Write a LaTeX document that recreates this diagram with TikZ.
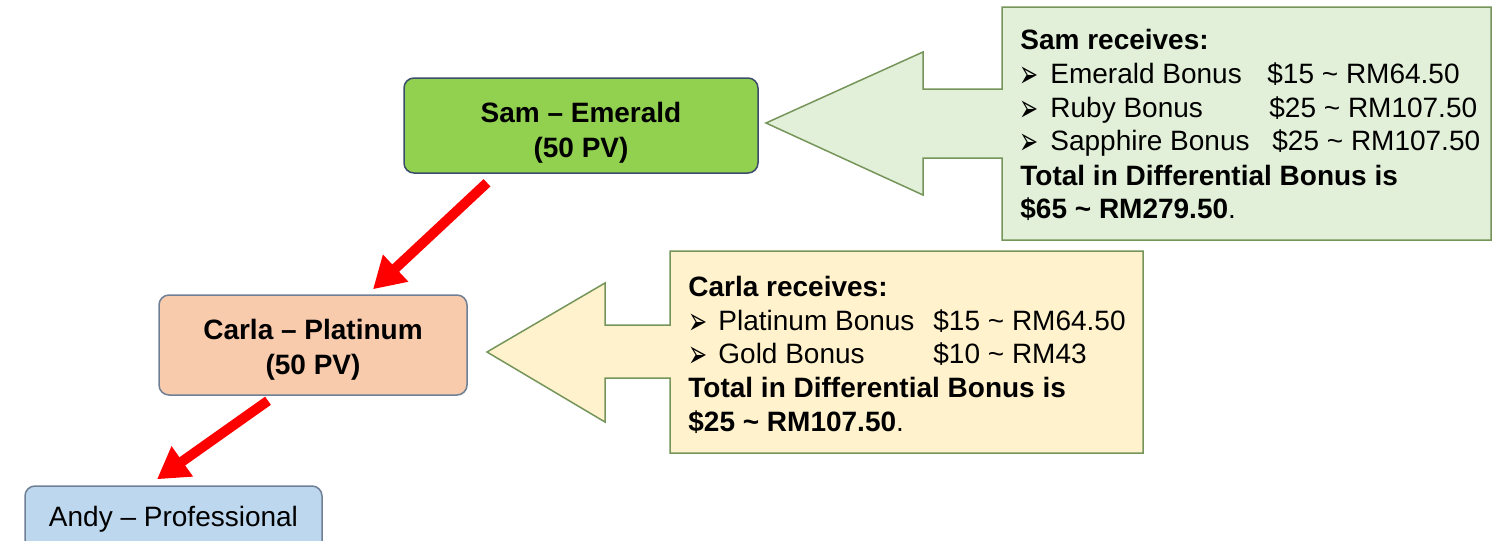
\documentclass[tikz,border=0pt]{standalone}
\usepackage{fontspec}
\usepackage{graphicx}
\setmainfont{Liberation Sans}
\newfontfamily\dejavu{DejaVu Sans}
\usetikzlibrary{arrows.meta,calc}
\definecolor{samfill}{HTML}{92D050}
\definecolor{carlafill}{HTML}{F8CBAD}
\definecolor{andyfill}{HTML}{BDD7EE}
\definecolor{samborder}{HTML}{3B4D6B}
\definecolor{boxborder}{HTML}{6F7F95}
\definecolor{greenfill}{HTML}{E2F0D9}
\definecolor{yellowfill}{HTML}{FFF2CC}
\definecolor{calloutborder}{HTML}{76955A}
\definecolor{arrowred}{HTML}{FF0000}
\newcommand{\mybul}{\scalebox{0.95}[1.6]{➢}}
\tikzset{
  box/.style={draw=boxborder, line width=0.75pt, rounded corners=5pt, inner sep=0pt},
  nodetxt/.style={font=\fontsize{14}{17.5}\selectfont, align=center, inner sep=0pt},
  lbl/.style={font=\fontsize{14}{17}\selectfont, anchor=base west, inner sep=0pt},
  bul/.style={font=\dejavu\fontsize{12}{14}\selectfont, anchor=base west, inner sep=0pt},
  redarrow/.style={draw=arrowred, line width=5pt, -{Triangle[length=15.5pt,width=17.5pt]}},
  callout/.style={draw=calloutborder, line width=0.75pt}
}
\begin{document}
\begin{tikzpicture}[x=0.5pt,y=-0.5pt]
\clip (0,0) rectangle (1501,541);
\fill[white] (0,0) rectangle (1501,541);

% tree boxes
\node[box, fill=samfill, draw=samborder, minimum width=177pt, minimum height=47.5pt] (sam) at (581,125.5) {};
\node[nodetxt, font=\fontsize{14}{17.5}\selectfont\bfseries] (samtxt) at ($(sam.center)+(0,7.7)$) {Sam – Emerald\\(50 PV)};
\node[box, fill=carlafill, minimum width=154pt, minimum height=50pt] (carla) at (313,345) {};
\node[nodetxt, font=\fontsize{14}{17.5}\selectfont\bfseries] (carlatxt) at ($(carla.center)+(0,4.8)$) {Carla – Platinum\\(50 PV)};
\node[box, fill=andyfill, minimum width=148.5pt, minimum height=33pt, font=\fontsize{14}{17}\selectfont] (andy) at (173.5,519) {Andy – Professional};

% red arrows
\draw[redarrow] ($(sam.south)+(-94,9)$) -- ($(carla.north)+(60,-5)$);
\draw[redarrow] ($(carla.south)+(-45,5)$) -- ($(andy.north)+(-16.5,-6)$);

% green callout
\coordinate (gtip) at (766,123);
\draw[callout, fill=greenfill] (gtip) -- (923,52) -- (923,89) -- (1002,89) -- (1002,7) -- (1491,7)
  -- (1491,240) -- (1002,240) -- (1002,158) -- (923,158) -- (923,195) -- cycle;
\node[lbl, font=\fontsize{14}{17}\selectfont\bfseries] (g0) at (1020,49) {Sam receives:};
\node[bul] (gb1) at (1019,87) {\mybul};
\node[lbl] (g1) at (1050,83) {Emerald Bonus};
\node[lbl] (g1a) at (1267,83) {\$15 \textasciitilde{} RM64.50};
\node[bul] (gb2) at (1019,121) {\mybul};
\node[lbl] (g2) at (1050,117) {Ruby Bonus};
\node[lbl] (g2a) at (1269,117) {\$25 \textasciitilde{} RM107.50};
\node[bul] (gb3) at (1019,154) {\mybul};
\node[lbl] (g3) at (1050,150) {Sapphire Bonus};
\node[lbl] (g3a) at (1272,150) {\$25 \textasciitilde{} RM107.50};
\node[lbl, font=\fontsize{14}{17}\selectfont\bfseries] (g4) at (1020,185) {Total in Differential Bonus is};
\node[lbl] (g5) at (1020,218) {\textbf{\$65 \textasciitilde{} RM279.50}.};

% yellow callout
\coordinate (ytip) at (487,352);
\draw[callout, fill=yellowfill] (ytip) -- (605,283) -- (605,325) -- (670,325) -- (670,251) -- (1143,251)
  -- (1143,453) -- (670,453) -- (670,378) -- (605,378) -- (605,422) -- cycle;
\node[lbl, font=\fontsize{14}{17}\selectfont\bfseries] (y0) at (688,296) {Carla receives:};
\node[bul] (yb1) at (688,334) {\mybul};
\node[lbl] (y1) at (718,330) {Platinum Bonus};
\node[lbl] (y1a) at (933,330) {\$15 \textasciitilde{} RM64.50};
\node[bul] (yb2) at (688,367) {\mybul};
\node[lbl] (y2) at (718,363) {Gold Bonus};
\node[lbl] (y2a) at (933,363) {\$10 \textasciitilde{} RM43};
\node[lbl, font=\fontsize{14}{17}\selectfont\bfseries] (y3) at (688,397) {Total in Differential Bonus is};
\node[lbl] (y4) at (688,431) {\textbf{\$25 \textasciitilde{} RM107.50}.};
\end{tikzpicture}
\end{document}
